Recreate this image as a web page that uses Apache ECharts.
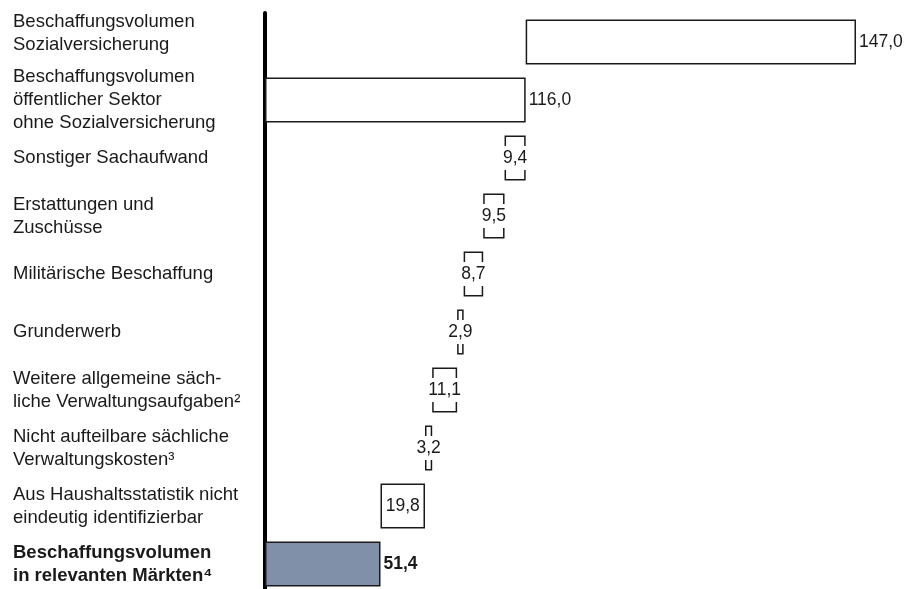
<!DOCTYPE html>
<html>
<head>
<meta charset="utf-8">
<script src="https://cdn.jsdelivr.net/npm/echarts@6/dist/echarts.min.js"></script>
<style>
  html, body { margin: 0; padding: 0; background: #fff; }
  #chart { width: 904px; height: 589px; }
</style>
</head>
<body>
<div id="chart"></div>
<script>
// Rows of the bridge, top to bottom
const categories = [
  'Beschaffungsvolumen\nSozialversicherung',
  'Beschaffungsvolumen\nöffentlicher Sektor\nohne Sozialversicherung',
  'Sonstiger Sachaufwand',
  'Erstattungen und\nZuschüsse',
  'Militärische Beschaffung',
  'Grunderwerb',
  'Weitere allgemeine säch-\nliche Verwaltungsaufgaben²',
  'Nicht aufteilbare sächliche\nVerwaltungskosten³',
  'Aus Haushaltsstatistik nicht\neindeutig identifizierbar',
  'Beschaffungsvolumen\nin relevanten Märkten⁴'
];
// Values in Mrd. Euro
const values = [147.0, 116.0, 9.4, 9.5, 8.7, 2.9, 11.1, 3.2, 19.8, 51.4];
// Role of each row: add-on on top of the public sector total, totals, deductions
const kinds = ['addon', 'total', 'sub', 'sub', 'sub', 'sub', 'sub', 'sub', 'sub', 'total'];

const FONT = '"Liberation Sans", Arial, sans-serif';
const fmt = v => v.toFixed(1).replace('.', ',');

// Invisible offsets for the waterfall steps
const offsets = [];
let running = values[1];
kinds.forEach((k, i) => {
  if (k === 'addon') offsets.push(values[1]);
  else if (k === 'total') offsets.push(0);
  else { running -= values[i]; offsets.push(running); }
});
const axisMax = offsets[0] + values[0];

const last = values.length - 1;
const barData = values.map((v, i) => {
  const item = {
    value: v,
    itemStyle: {
      color: i === last ? '#7f90a8' : '#ffffff',
      borderColor: '#1a1a1a',
      borderWidth: 1.5
    }
  };
  if (kinds[i] === 'sub') {
    item.label = {
      position: 'inside',
      backgroundColor: '#ffffff',
      padding: [3, 1, 3, 1],
      color: '#1a1a1a'
    };
  } else {
    item.label = { position: 'right', distance: 3 };
  }
  if (i === last) item.label.fontWeight = 'bold';
  return item;
});

const labelBase = {
  align: 'left',
  fontFamily: FONT,
  fontSize: 18.5,
  lineHeight: 23,
  color: '#1a1a1a'
};
const yData = categories.map((c, i) => {
  const d = { value: c };
  if (i === last) d.textStyle = Object.assign({}, labelBase, { fontWeight: 'bold' });
  return d;
});

const chart = echarts.init(document.getElementById('chart'), null, { renderer: 'canvas' });
chart.setOption({
  animation: false,
  backgroundColor: '#ffffff',
  grid: {
    left: 265, right: 48, top: 13, height: 580,
    containLabel: false,
    outerBoundsMode: 'none'
  },
  xAxis: {
    type: 'value',
    min: 0,
    max: axisMax,
    show: false
  },
  yAxis: {
    type: 'category',
    inverse: true,
    data: yData,
    axisLine: { show: true, lineStyle: { color: '#000', width: 4 } },
    axisTick: { show: false },
    splitLine: { show: false },
    axisLabel: Object.assign({
      margin: 252,
      interval: 0,
      hideOverlap: false,
      // the top row's text sits higher than its bar: pad it with an empty line below
      formatter: (val, idx) => idx === 0 ? val + '\n{gap| }' : val,
      rich: { gap: { lineHeight: 17, fontSize: 1 } }
    }, labelBase)
  },
  series: [
    {
      type: 'bar',
      stack: 'wf',
      data: offsets,
      barWidth: 45,
      itemStyle: { color: 'transparent', borderColor: 'transparent' },
      emphasis: { disabled: true },
      silent: true
    },
    {
      type: 'bar',
      stack: 'wf',
      data: barData,
      barWidth: 45,
      label: {
        show: true,
        fontFamily: FONT,
        fontSize: 17.5,
        color: '#1a1a1a',
        formatter: p => fmt(p.value)
      }
    }
  ]
});
</script>
</body>
</html>
